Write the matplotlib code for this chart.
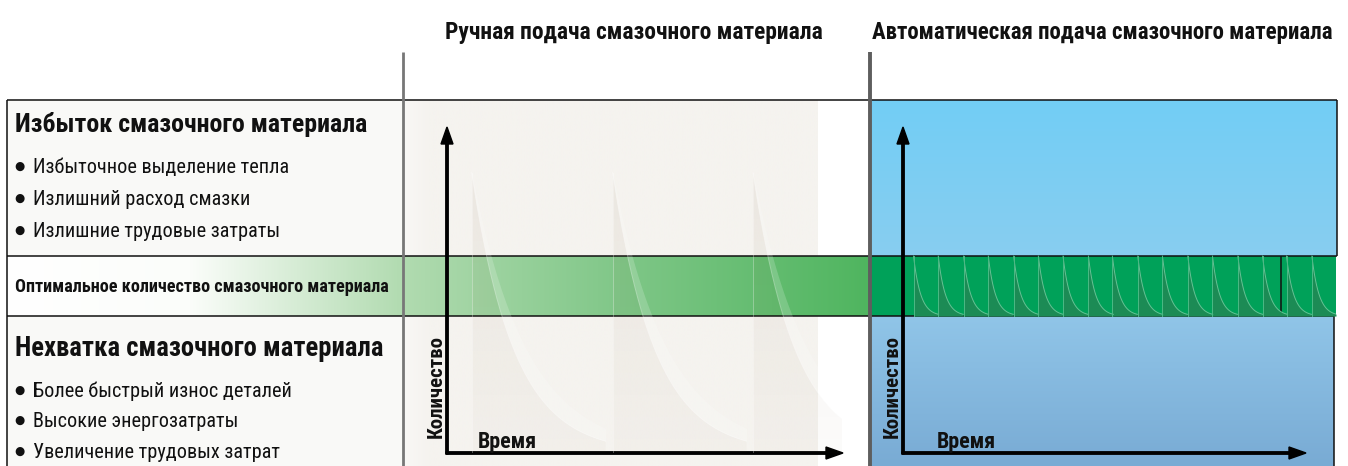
import numpy as np
import matplotlib
matplotlib.use("Agg")
import matplotlib.pyplot as plt
from matplotlib import font_manager as fm
from matplotlib.patches import Rectangle, Polygon
from matplotlib.colors import to_rgb

# ---------------- data ----------------
titles = ["Ручная подача смазочного материала",
          "Автоматическая подача смазочного материала"]
excess_head = "Избыток смазочного материала"
excess_items = ["Избыточное выделение тепла",
                "Излишний расход смазки",
                "Излишние трудовые затраты"]
optimal_label = "Оптимальное количество смазочного материала"
lack_head = "Нехватка смазочного материала"
lack_items = ["Более быстрый износ деталей",
              "Высокие энергозатраты",
              "Увеличение трудовых затрат"]
y_label = "Количество"
x_label = "Время"

# quantity scale 0..10, time in arbitrary units
optimal_band = [4.2, 6.04]            # low / high quantity of optimal zone
manual_dose_t = [0.35, 2.35, 4.34]    # manual lubrication moments
manual_peak_q = [8.6, 8.6, 8.6]
manual_tau = 0.6
auto_dose_t = [0.15, 0.50, 0.86, 1.21, 1.57, 1.92, 2.27, 2.63, 2.97,
               3.33, 3.68, 4.04, 4.39, 4.75, 5.10, 5.44, 5.80]
auto_tau = 0.1

# ---------------- fonts ----------------
def _w(f):
    w = f.weight
    if isinstance(w, str):
        w = fm.weight_dict.get(w, 400)
    return int(w)

def _is_cond(f):
    n = f.name.lower()
    return (str(f.stretch) in ("condensed", "semi-condensed", "extra-condensed",
                               "ultra-condensed")) or "narrow" in n or "condensed" in n \
        or "narrow" in f.fname.lower() or "condensed" in f.fname.lower()

PREF = ["Roboto Condensed", "Open Sans Condensed", "Noto Sans", "Liberation Sans Narrow",
        "Open Sans", "Roboto", "DejaVu Sans", "Liberation Sans"]

def pick_font(weight, condensed=True):
    ents = [f for f in fm.fontManager.ttflist
            if f.style == "normal" and f.fname.lower().endswith((".ttf", ".otf"))]
    if condensed:
        pool = [f for f in ents if _is_cond(f)]
    else:
        pool = [f for f in ents if not _is_cond(f)]
    for fam in PREF:
        c = [f for f in pool if f.name == fam or f.name.startswith(fam)]
        if c:
            c.sort(key=lambda f: abs(_w(f) - weight))
            return fm.FontProperties(fname=c[0].fname)
    return fm.FontProperties(family=["Roboto", "DejaVu Sans"],
                             weight="bold" if weight >= 600 else "normal")

fp_bold_c = pick_font(700, True)
fp_reg_c = pick_font(400, True)
fp_semi = pick_font(600, True)
fp_dot = fm.FontProperties(family="DejaVu Sans")

# ---------------- figure ----------------
W, H = 1348, 466
fig = plt.figure(figsize=(W / 100, H / 100), dpi=100)
fig.patch.set_facecolor("white")
ax = fig.add_axes([0, 0, 1, 1])
ax.set_xlim(0, W)
ax.set_ylim(H, 0)
ax.axis("off")
renderer = fig.canvas.get_renderer()

def hgrad(x0, x1, y0, y1, stops, z):
    xs = np.linspace(x0, x1, 600)
    px = [s[0] for s in stops]
    cols = np.array([to_rgb(s[1]) for s in stops])
    img = np.stack([np.interp(xs, px, cols[:, i]) for i in range(3)], axis=-1)[None, :, :]
    ax.imshow(img, extent=(x0, x1, y1, y0), aspect="auto", zorder=z, interpolation="bilinear")

def vgrad(x0, x1, y0, y1, c0, c1, z):
    t = np.linspace(0, 1, 200)[:, None]
    img = (1 - t) * np.array(to_rgb(c0)) + t * np.array(to_rgb(c1))
    ax.imshow(img[:, None, :], extent=(x0, x1, y1, y0), aspect="auto", zorder=z,
              interpolation="bilinear")

# backgrounds
ax.add_patch(Rectangle((7, 100), 396, 366, fc="#f9f9f7", ec="none", zorder=1))
hgrad(403, 818, 100, 466, [(403, "#f9f8f6"), (428, "#f5f3ef"), (818, "#f5f3ef")], 1)
# optimal band (manual side)
hgrad(7, 870, 256, 316, [(7, "#ffffff"), (190, "#fbfdfa"), (403, "#b1dbb0"),
                         (620, "#80c788"), (870, "#4fb55f")], 2)
# automatic side
vgrad(870, 1337, 100, 256, "#72cef5", "#88cdf0", 1)
vgrad(870, 1334, 316, 466, "#90c5e8", "#79abd4", 1)
ax.add_patch(Rectangle((870, 256), 466, 60, fc="#00a159", ec="none", zorder=2))

# ---------------- chart insets ----------------
TU = 70.5   # px per time unit
def inset(x0, x1):
    a = fig.add_axes([x0 / W, (H - 453) / H, (x1 - x0) / W, 326 / H])
    a.set_xlim(0, (x1 - x0) / TU)
    a.set_ylim(0, 10)
    a.axis("off")
    a.patch.set_alpha(0)
    return a

ax_l = inset(447, 842)
ax_r = inset(903, 1336)

# manual: large doses decaying through the whole range
for t0, pk in zip(manual_dose_t, manual_peak_q):
    tt = np.linspace(t0, t0 + 1.9, 300)
    qq = pk * np.exp(-(tt - t0) / manual_tau)
    poly = Polygon(np.column_stack([np.r_[t0, tt, tt[-1]], np.r_[0, qq, 0]]),
                   closed=True, fc="none", ec="none", transform=ax_l.transData)
    ax_l.add_patch(poly)
    g = np.linspace(1, 0, 200)[:, None]
    rgba = np.zeros((200, 1, 4))
    rgba[..., :3] = to_rgb("#7a5c3a")
    rgba[..., 3] = 0.025 + 0.05 * g[:, :]
    im = ax_l.imshow(rgba, extent=(t0, t0 + 1.9, 0, pk), aspect="auto",
                     interpolation="bilinear", zorder=3)
    im.set_clip_path(poly)
    # faint highlight right of the curve
    tt2 = np.linspace(t0 + 0.02, t0 + 1.9, 300)
    q_in = pk * np.exp(-(tt2 - t0) / manual_tau)
    q_out = pk * np.exp(-(tt2 - t0) / (manual_tau * 1.3))
    ax_l.fill_between(tt2, q_in, q_out, color="white", alpha=0.18, lw=0, zorder=3)
    ax_l.plot(tt, qq, color="white", lw=0.7, alpha=0.35, zorder=3)
    ax_l.plot([t0, t0], [0, pk], color="white", lw=0.6, alpha=0.35, zorder=3)

# automatic: small frequent doses within the optimal band
lo, hi = optimal_band
tmax = ax_r.get_xlim()[1]
step = np.diff(auto_dose_t).mean()
for t0 in auto_dose_t:
    t1 = min(t0 + step, tmax)
    tt = np.linspace(t0, t1, 80)
    qq = lo + (hi - lo) * np.exp(-(tt - t0) / auto_tau)
    ax_r.fill_between(tt, lo, qq, color="#1c8b55", lw=0, zorder=3)
    ax_r.plot(tt, qq, color="#63c394", lw=0.7, zorder=4)
    ax_r.plot([t0, t0], [lo, hi], color="#4cb985", lw=0.7, zorder=4)

# ---------------- lines ----------------
K = dict(color="#111111", lw=1.1, zorder=6, solid_capstyle="butt")
ax.plot([7, 1337], [100, 100], **K)
ax.plot([7, 1337], [256, 256], **K)
ax.plot([7, 1334], [316, 316], **K)
ax.plot([7, 7], [100, 466], **K)
ax.plot([1337, 1337], [100, 256], **K)
ax.plot([1281, 1281], [256, 316], **K)
ax.plot([1334, 1334], [316, 466], **K)
ax.plot([403, 403], [52, 466], color="#777777", lw=2.0, zorder=7, solid_capstyle="butt")
ax.plot([870, 870], [52, 466], color="#5e5e5e", lw=2.8, zorder=7, solid_capstyle="butt")

# arrows
AR = dict(width=2.4, head_width=12, head_length=17, length_includes_head=True,
          color="black", zorder=8)
for ox, xe in [(447, 843), (903, 1306)]:
    ax.arrow(ox, 454, 0, 127 - 454, **AR)
    ax.arrow(ox - 1, 453, xe - ox + 1, 0, **AR)

# ---------------- text ----------------
def fit_text(x, y, s, width, fp, maxsize=None, rot=0, **kw):
    t = ax.text(x, y, s, fontproperties=fp, fontsize=20, color="#111111",
                rotation=rot, zorder=9, **kw)
    bb = t.get_window_extent(renderer)
    w = bb.width if rot == 0 else bb.height
    size = 20 * width / w
    if maxsize:
        size = min(size, maxsize)
    t.set_fontsize(size)
    return t

fit_text(445, 39, titles[0], 378, fp_bold_c, 25, ha="left", va="baseline")
fit_text(872, 39, titles[1], 461, fp_bold_c, 25, ha="left", va="baseline")

fit_text(15, 132, excess_head, 353, fp_semi, 21, ha="left", va="baseline")
t = fit_text(33, 173, excess_items[0], 255, fp_reg_c, 17, ha="left", va="baseline")
bs = t.get_fontsize()

def bullet(yb, s, first=False):
    ax.text(14, yb - 3, "●", fontproperties=fp_dot, fontsize=8.5, color="#111111",
            ha="left", va="baseline", zorder=9)
    if not first:
        ax.text(33, yb, s, fontproperties=fp_reg_c, fontsize=bs, color="#111111",
                ha="left", va="baseline", zorder=9)

bullet(173, excess_items[0], first=True)
for s, yb in zip(excess_items[1:], [205, 237]):
    bullet(yb, s)

fit_text(15, 292, optimal_label, 375, fp_bold_c, 19, ha="left", va="baseline")

fit_text(15, 356, lack_head, 368, fp_semi, 21, ha="left", va="baseline")
for s, yb in zip(lack_items, [397, 427, 458]):
    bullet(yb, s)

for xr, xt in [(442, 478), (898, 937)]:
    fit_text(xr, 438, y_label, 103, fp_bold_c, 17, rot=90, ha="left", va="baseline",
             rotation_mode="anchor")
    fit_text(xt, 448, x_label, 59, fp_bold_c, 17, ha="left", va="baseline")

fig.savefig("out.png", dpi=100, facecolor="white")
